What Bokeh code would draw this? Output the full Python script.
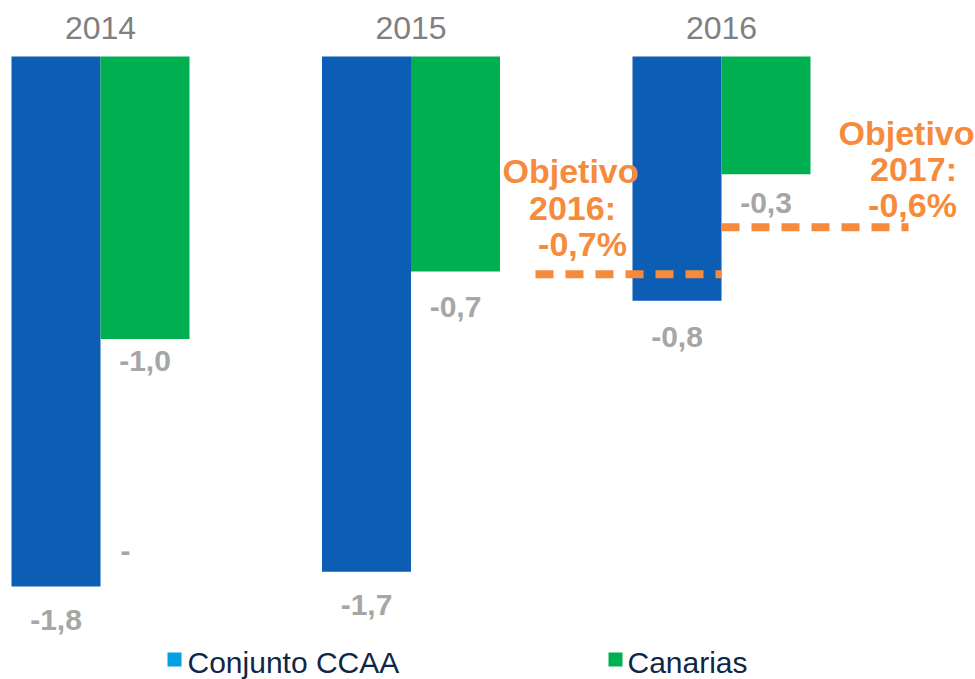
from bokeh.plotting import figure
from bokeh.models import Range1d
from bokeh.core.properties import value
from bokeh.embed import file_html
from bokeh.resources import INLINE

# ---- data ----
years = ["2014", "2015", "2016"]
conjunto = [-1.80, -1.75, -0.83]
canarias = [-0.96, -0.73, -0.40]
conjunto_labels = ["-1,8", "-1,7", "-0,8"]
canarias_labels = ["-1,0", "-0,7", "-0,3"]
objetivo_years = ["2016", "2017"]
objetivos = [-0.74, -0.58]
objetivo_labels = ["-0,7%", "-0,6%"]
series_names = ["Conjunto CCAA", "Canarias"]

# ---- colours / styles ----
BLUE = "#0B5EB4"
GREEN = "#00AF50"
LEG_BLUE = "#00A0E3"
ORANGE = "#F68B3D"
GRAY = "#A6A6A6"
YEAR_GRAY = "#808080"
NAVY = "#0F2747"
FONT = "Liberation Sans"

W, H = 975, 679
SX = 310.5   # px per group
SY = 294.4   # px per unit
X0 = -100 / SX
X1 = X0 + W / SX
Y1 = 56 / SY
Y0 = Y1 - H / SY


def sx(px):
    return X0 + px / SX


def sy(py):
    return Y1 - py / SY


p = figure(width=W, height=H, output_backend="svg", toolbar_location=None,
           x_range=Range1d(X0, X1), y_range=Range1d(Y0, Y1),
           min_border=0, outline_line_color=None)
p.axis.visible = False
p.grid.visible = False
p.background_fill_color = "white"
p.border_fill_color = "white"

idx = list(range(len(years)))
bw = 89 / SX
xb = [i - bw / 2 for i in idx]
xg = [i + bw / 2 for i in idx]

p.vbar(x=xb, width=bw, top=0, bottom=conjunto, fill_color=BLUE, line_color=None)
p.vbar(x=xg, width=bw, top=0, bottom=canarias, fill_color=GREEN, line_color=None)

# year labels at top
p.text(x=idx, y=[sy(27)] * len(idx), text=years, text_align="center",
       text_baseline="middle", text_color=YEAR_GRAY, text_font=value(FONT),
       text_font_size="32px")

# value labels
off_b = [34, 33, 36]
off_g = [22, 36, 29]
p.text(x=xb, y=[v - o / SY for v, o in zip(conjunto, off_b)], text=conjunto_labels,
       text_align="center", text_baseline="middle", text_color=GRAY,
       text_font=value(FONT), text_font_size="30px", text_font_style="bold")
p.text(x=xg, y=[v - o / SY for v, o in zip(canarias, off_g)], text=canarias_labels,
       text_align="center", text_baseline="middle", text_color=GRAY,
       text_font=value(FONT), text_font_size="30px", text_font_style="bold")
p.text(x=[sx(125)], y=[sy(550)], text=["-"], text_align="center",
       text_baseline="middle", text_color=GRAY, text_font=value(FONT),
       text_font_size="30px", text_font_style="bold")

# objective dashed lines
seg_x0 = [sx(535), idx[2]]
seg_x1 = [idx[2], sx(908)]
p.segment(x0=seg_x0, y0=objetivos, x1=seg_x1, y1=objetivos, line_color=ORANGE,
          line_width=8, line_dash="18 12", line_cap="butt")

# objective texts
for i, (yr, lab) in enumerate(zip(objetivo_years, objetivo_labels)):
    if i == 0:
        xs = [sx(570), sx(572), sx(582)]
        ys = [sy(170), sy(207), sy(243)]
    else:
        xs = [sx(906), sx(913), sx(912)]
        ys = [sy(132), sy(168), sy(204)]
    p.text(x=xs, y=ys, text=["Objetivo", yr + ":", lab], text_align="center",
           text_baseline="middle", text_color=ORANGE, text_font=value(FONT),
           text_font_size="34px", text_font_style="bold")

# legend
p.scatter(x=[sx(174), sx(615)], y=[sy(659), sy(659)], marker="square", size=14,
          fill_color=[LEG_BLUE, GREEN], line_color=None)
p.text(x=[sx(187), sx(627)], y=[sy(662), sy(662)], text=series_names,
       text_align="left", text_baseline="middle", text_color=NAVY,
       text_font=value(FONT), text_font_size="30px")

open("out.html", "w").write(file_html(p, INLINE))
